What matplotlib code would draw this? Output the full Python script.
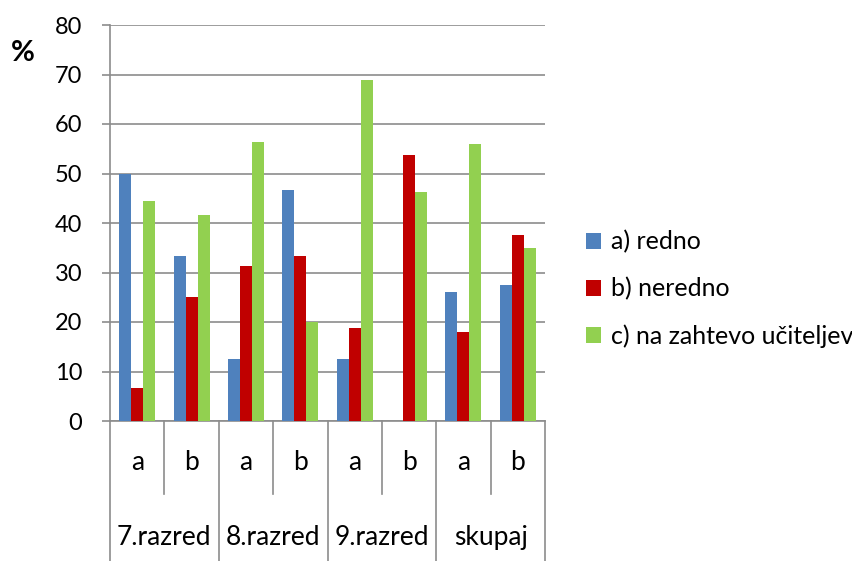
import numpy as np
import matplotlib.pyplot as plt
import matplotlib.transforms as mtransforms
from matplotlib.patches import Patch

plt.rcParams['font.family'] = ['Lato', 'DejaVu Sans']

# data
groups = ["7.razred", "8.razred", "9.razred", "skupaj"]
sub_labels = ["a", "b"]
series_names = ["a) redno", "b) neredno", "c) na zahtevo učiteljev"]
redno = [50.0, 33.3, 12.5, 46.7, 12.5, 0.0, 26.0, 27.5]
neredno = [6.7, 25.0, 31.3, 33.3, 18.8, 53.8, 18.0, 37.6]
na_zahtevo = [44.4, 41.7, 56.3, 20.0, 68.8, 46.2, 56.0, 35.0]
colors = ["#4F81BD", "#C00000", "#92D050"]

fig = plt.figure(figsize=(8.52, 5.61), dpi=100)
ax = fig.add_axes([110 / 852, 140 / 561, 435 / 852, 396 / 561])

x = np.arange(len(redno))
w = 0.22
for k, vals in enumerate([redno, neredno, na_zahtevo]):
    ax.bar(x + (k - 1) * w, vals, width=w, color=colors[k], zorder=3)

ax.set_xlim(-0.5, len(redno) - 0.5)
ax.set_ylim(0, 80)
ax.set_yticks(range(0, 81, 10))
ax.yaxis.grid(True, color="#8c8c8c", linewidth=1.2, zorder=0)
ax.set_xticks([])
ax.tick_params(axis="y", labelsize=17, length=6, width=1.2, color="#8c8c8c", pad=14)
for s in ["top", "right"]:
    ax.spines[s].set_visible(False)
ax.spines["left"].set_color("#8c8c8c")
ax.spines["left"].set_linewidth(1.2)
ax.spines["bottom"].set_color("#8c8c8c")
ax.spines["bottom"].set_linewidth(1.2)

# category table lines below axis
trans = mtransforms.blended_transform_factory(ax.transData, ax.transAxes)
for i in range(len(redno) + 1):
    xb = i - 0.5
    ybot = -0.354 if i % 2 == 0 else -0.184
    ax.plot([xb, xb], [0, ybot], color="#8c8c8c", linewidth=1.2,
            transform=trans, clip_on=False)

for i in range(len(redno)):
    ax.text(i, -0.106, sub_labels[i % 2], transform=trans, ha="center",
            va="center", fontsize=19)
for g, name in enumerate(groups):
    ax.text(2 * g + 0.5, -0.293, name, transform=trans, ha="center",
            va="center", fontsize=19)

fig.text(23 / 852, 1 - 53 / 561, "%", fontsize=21, fontweight="bold",
         ha="center", va="center")

handles = [Patch(facecolor=c) for c in colors]
fig.legend(handles, series_names, loc="center left",
           bbox_to_anchor=(586 / 852, 1 - 289 / 561), frameon=False,
           borderpad=0, borderaxespad=0,
           fontsize=18, handlelength=0.6, handleheight=0.6,
           handletextpad=0.4, labelspacing=0.95)

fig.savefig("out.png", dpi=100)
